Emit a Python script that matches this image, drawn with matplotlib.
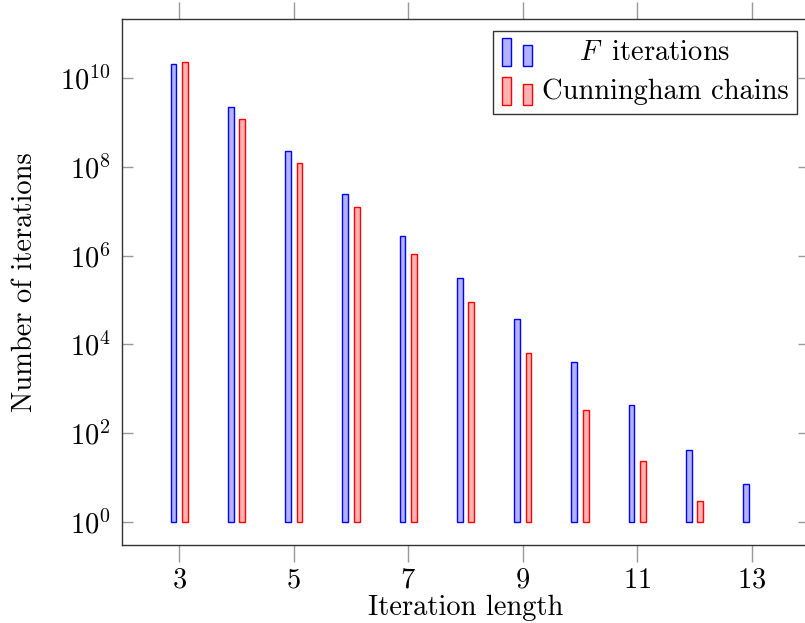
import matplotlib
matplotlib.use("Agg")
import matplotlib.pyplot as plt
import matplotlib.patches as mpatches
from matplotlib.legend_handler import HandlerBase
import numpy as np

plt.rcParams['font.family'] = 'serif'
plt.rcParams['font.serif'] = ['cmr10']
plt.rcParams['mathtext.fontset'] = 'cm'
plt.rcParams['axes.formatter.use_mathtext'] = True
plt.rcParams['font.size'] = 20.5

# Longitud de iteracion y numero de iteraciones
longitudes_f = [3, 4, 5, 6, 7, 8, 9, 10, 11, 12, 13]
iteraciones_f = [2.1e10, 2.2e9, 2.3e8, 2.4e7, 2.7e6, 3.1e5, 3.8e4, 4.0e3, 430, 41, 7]

longitudes_c = [3, 4, 5, 6, 7, 8, 9, 10, 11, 12]
cadenas_c = [2.25e10, 1.18e9, 1.25e8, 1.24e7, 1.1e6, 8.8e4, 6.3e3, 330, 24, 3]

xticks = [3, 5, 7, 9, 11, 13]
yticks = [1e0, 1e2, 1e4, 1e6, 1e8, 1e10]


class HandlerDosBarras(HandlerBase):
    def create_artists(self, legend, orig_handle, xdescent, ydescent,
                       width, height, fontsize, trans):
        fc = orig_handle.get_facecolor()
        ec = orig_handle.get_edgecolor()
        w = width * 0.3
        r1 = mpatches.Rectangle((-xdescent, -ydescent - 0.3 * height), w, height * 1.4,
                                facecolor=fc, edgecolor=ec, lw=1, transform=trans)
        r2 = mpatches.Rectangle((-xdescent + width * 0.66, -ydescent - 0.3 * height), w, height * 1.05,
                                facecolor=fc, edgecolor=ec, lw=1, transform=trans)
        return [r1, r2]


fig = plt.figure(figsize=(8.05, 6.23), dpi=100)
ax = fig.add_axes([122 / 805, 1 - 545 / 623, 687 / 805, 526 / 623])

ancho = 0.1
xf = np.array(longitudes_f) - 0.1
xc = np.array(longitudes_c) + 0.1
hf = np.array(iteraciones_f) - 1
hc = np.array(cadenas_c) - 1

ax.bar(xf, hf, width=ancho, bottom=1, facecolor='#b3b3ff', edgecolor='blue', lw=1)
ax.bar(xc, hc, width=ancho, bottom=1, facecolor='#ffb3b3', edgecolor='red', lw=1)

ax.set_yscale('log')
ax.set_xlim(2, 14)
ax.set_ylim(10 ** -0.52, 10 ** 11.33)
ax.set_xticks(xticks)
ax.set_yticks(yticks)
ax.yaxis.set_minor_locator(matplotlib.ticker.NullLocator())

for s in ax.spines.values():
    s.set_color('#333333')
    s.set_linewidth(1)

ax.tick_params(axis='x', direction='out', length=12, width=1, color='#999999',
               top=True, pad=4)
ax.tick_params(axis='y', direction='in', length=8, width=1, color='#999999',
               right=True, pad=8)

ax.set_xlabel('Iteration length', labelpad=1)
ax.set_ylabel('Number of iterations', labelpad=16)

p1 = mpatches.Rectangle((0, 0), 1, 1, facecolor='#b3b3ff', edgecolor='blue')
p2 = mpatches.Rectangle((0, 0), 1, 1, facecolor='#ffb3b3', edgecolor='red')
leg = ax.legend([p1, p2], ['    $F\\,$ iterations', 'Cunningham chains'],
                handler_map={mpatches.Rectangle: HandlerDosBarras()},
                loc='upper right', bbox_to_anchor=(1 - 12 / 687, 1 - 12 / 526),
                borderaxespad=0, fancybox=False, framealpha=1,
                edgecolor='#333333', handlelength=1.1, handletextpad=0.3,
                borderpad=0.3, labelspacing=0.45)
leg.get_frame().set_linewidth(1)

fig.savefig('out.png', dpi=100)
